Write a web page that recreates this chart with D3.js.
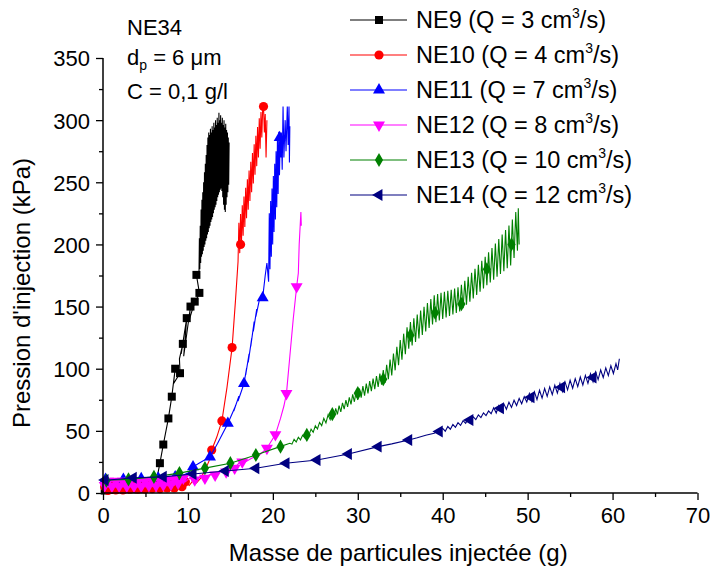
<!DOCTYPE html>
<html><head><meta charset="utf-8">
<script src="https://cdnjs.cloudflare.com/ajax/libs/d3/7.8.5/d3.min.js"></script>
<style>body{margin:0;background:#fff}svg text{font-family:Arial,"Liberation Sans",sans-serif;fill:#000}</style>
</head><body>
<svg id="c" width="713" height="578"></svg>
<script>
const xTicks=[0,10,20,30,40,50,60,70];
const yTicks=[0,50,100,150,200,250,300,350];
const seriesNames=["NE9","NE10","NE11","NE12","NE13","NE14"];
const flows=["3","4","7","8","10","12"];
const colors=["#000000","#ff0000","#0000ff","#ff00ff","#008000","#000080"];
const symbolsKind=["square","circle","triUp","triDown","diamond","triLeft"];

const ne9=[[0,1],[0.5,2],[1,3],[2,3],[3,3],[4,3],[5,4],[5.8,5],[6.3,10],[6.7,24],[7.1,39],[7.7,60],[8.1,77.5],[8.5,100],[8.3,88],[9.07,96.4],[9.0,108],[9.4,120],[9.2,112],[9.86,140.7],[9.5,110],[10.3,150],[10.1,138],[10.8,154],[10.5,148],[11.35,161],[11.0,175.5],
[11.30,175],[11.35,205],[11.40,180],[11.45,215],[11.50,185],[11.55,228],[11.60,190],[11.65,236],[11.70,192],[11.75,242],[11.80,195],[11.85,250],[11.90,198],[11.95,258],[12.00,200],[12.05,265],[12.10,203],[12.15,272],[12.20,205],[12.25,280],[12.30,208],[12.35,286],[12.40,210],[12.45,290],[12.50,213],[12.55,288],[12.60,215],[12.65,293],[12.70,218],[12.75,290],[12.80,220],[12.85,295],[12.90,222],[12.95,292],[13.00,225],[13.05,298],[13.10,228],[13.15,294],[13.20,230],[13.25,300],[13.30,232],[13.35,296],[13.40,235],[13.45,302],[13.50,238],[13.55,298],[13.60,240],[13.65,306],[13.70,242],[13.75,300],[13.80,244],[13.85,304],[13.90,245],[13.95,298],[14.00,243],[14.05,302],[14.10,238],[14.15,296],[14.20,232],[14.25,300],[14.30,228],[14.35,294],[14.40,226],[14.45,297],[14.50,232],[14.55,292],[14.60,238],[14.65,290],[14.70,242],[14.75,286],[14.80,248],[14.85,282]];
const ne9Markers=[[0.2,2],[1,2.5],[1.8,3],[2.6,3],[3.4,3],[4.2,3],[5,4],[5.8,5],[6.7,24],[7.1,39],[7.7,60],[8.1,77.5],[8.5,100],[9.07,96.4],[9.4,120],[9.86,140.7],[10.3,150],[10.8,154],[11.35,161],[11.0,175.5]];

const ne10=[[0.2,5],[0.6,2],[1.05,6],[1.5,2.5],[1.9,6.5],[2.35,2.5],[2.8,6.5],[3.2,3],[3.65,7],[4.1,3],[4.5,7],[4.95,3],[5.4,7],[5.8,3.5],[6.25,7.5],[6.7,3.5],[7.1,7.5],[7.55,4],[8.0,8],[8.4,4],[8.85,8.5],[9.3,5],[9.7,9],[10.15,6],[10.6,10],[11.0,8],[11.5,12],[12.0,18],[12.5,26],[12.8,34.6],[13.4,45],[14.0,58],[14.6,85],[15.2,117],[15.6,155],
[15.9,186],[16.0,217.5],[16.1,193],[16.2,224.5],[16.3,200],[16.4,231.5],[16.5,207],[16.6,238.5],[16.7,214],[16.8,245.5],[16.9,221],[17.0,252.5],[17.1,228],[17.2,259.5],[17.3,235],[17.4,266.5],[17.5,242],[17.6,273.5],[17.7,249],[17.8,280.5],[17.9,256],[18.0,287.5],[18.1,263],[18.2,294.5],[18.3,270],[18.4,301.5],[18.5,277],[18.6,306.5],[18.7,286],[18.8,309.5],[18.9,311],[19.0,290],[19.1,305],[19.2,270],[19.3,300]];
const ne10Markers=[[0.2,5],[0.6,2],[1.05,6],[1.5,2.5],[1.9,6.5],[2.35,2.5],[2.8,6.5],[3.2,3],[3.65,7],[4.1,3],[4.5,7],[4.95,3],[5.4,7],[5.8,3.5],[6.25,7.5],[6.7,3.5],[7.1,7.5],[7.55,4],[8.0,8],[8.4,4],[8.85,8.5],[9.3,5],[9.7,9],[12.8,34.6],[14.0,58],[15.2,117],[16.2,200],[18.9,311]];

const ne11=[[0,10],[1,10.5],[2,11],[3,11],[4,11.5],[5,11.5],[6,12],[7,12],[8,12.5],[9,13],[10,16],[10.6,21],[11.3,24],[12.6,29],[13.5,40],[14.7,56],[15.6,70],[15.4,66],[16.0,78],[15.9,74],[16.6,88],[16.9,100],[16.8,95],[17.2,112],[17.1,105],[17.5,124],[17.4,118],[17.8,138],[17.7,130],[18.1,148],[18.0,142],[18.4,155],[18.8,157],[19.1,175],[19.3,185],
[19.5,170],[19.58,225],[19.66,180],[19.74,235],[19.82,190],[19.9,245],[19.98,200],[20.06,255],[20.14,210],[20.22,265],[20.3,220],[20.38,275],[20.46,230],[20.54,285.5],[20.62,240.6],[20.7,290.6],[20.78,255.6],[20.86,285.7],[20.94,270],[21.0,290],[21.1,260],[21.2,311],[21.3,270],[21.45,300],[21.55,275],[21.7,311],[21.8,280],[21.9,311],[21.95,266],[22.0,295]];
const ne11Markers=[[0.3,11],[2.4,11],[4.5,11.5],[6.5,12],[8.5,13],[10.6,21],[12.6,29],[14.7,56],[16.6,88],[18.8,157],[20.8,286]];

const ne12=[[0.2,6],[0.6,9.5],[1.05,5.5],[1.5,9.5],[1.9,5.5],[2.35,9.5],[2.8,5.5],[3.2,9.5],[3.65,5.5],[4.1,9.5],[4.5,5.5],[4.95,9.5],[5.4,6],[5.8,10],[6.25,6],[6.7,10],[7.1,6.5],[7.55,10.5],[8.0,7],[8.4,11],[8.85,8],[9.3,12],[9.7,9],[10.2,12],[10.8,10.5],[11.4,13],[12,12],[12.6,15],[13.2,14.5],[13.8,18],[14.5,17],[15.0,21],[15.5,20],[16.0,24],[16.5,24],[17.5,28],[18.5,31],[19.3,36],[20.3,47],[20.9,60],[21.3,70],[21.6,80],[22.0,110],[22.4,140],[22.8,166],[23.0,177],[23.1,200],[23.3,226],[23.35,215]];
const ne12Markers=[[0.2,6],[0.6,9.5],[1.05,5.5],[1.5,9.5],[1.9,5.5],[2.35,9.5],[2.8,5.5],[3.2,9.5],[3.65,5.5],[4.1,9.5],[4.5,5.5],[4.95,9.5],[5.4,6],[5.8,10],[6.25,6],[6.7,10],[7.1,6.5],[7.55,10.5],[8.0,7],[8.4,11],[8.85,8],[9.46,12],[10.8,10.5],[12,12],[13.2,14.5],[14.5,17],[15.5,20],[16.4,25],[19.3,36],[20.3,47],[21.6,80],[22.8,166]];

const ne13=[[0,9],[0.5,10],[1,10.5],[3,11],[6,13],[9,16],[12,20],[15,24],[18,30.6],[20.85,37.3],[22,40],[22.25,39.3],[22.5,43.2],[22.75,41],[23,44.9],[23.25,42.7],[23.5,46.5],[23.75,44.4],[24,48.2],[24.25,46.6],[24.5,51.4],[24.75,48.8],[25,54.1],[25.25,51.5],[25.5,56.8],[25.75,54.2],[26,60.1],[26.25,56.4],[26.5,62.8],[26.75,59.1],
[27.0,66],[27.2,61.1],[27.4,68.1],[27.6,63.2],[27.8,70.3],[28.0,65.3],[28.2,72.5],[28.4,67.4],[28.6,74.7],[28.8,69.3],[29.0,77],[29.2,71.3],[29.4,79.3],[29.6,73.4],[29.8,81.5],[30.0,75],[30.2,84],[30.4,76.8],[30.6,86],[30.8,78.4],[31.0,88],[31.2,80.2],[31.4,90],[31.6,82],[31.8,92],[32.0,83.6],[32.2,94.1],[32.4,85.4],[32.6,96],[32.8,87.1],[33.0,99],[33.2,88.5],[33.4,103.2],[33.6,91.5],[33.8,107.4],[34.0,94.5],[34.2,112.2],[34.4,98.7],[34.6,117.6],[34.8,102.9],[35.0,123],[35.2,107.2],[35.4,128.2],[35.6,111.6],[35.8,133.4],[36.0,116],[36.2,137.5],[36.4,118.8],[36.6,140.6],[36.8,121.6],[37.0,143.6],[37.2,124.4],[37.4,146.8],[37.6,127.2],[37.8,149.8],[38.0,130],[38.2,152.8],[38.4,132.8],[38.6,156],[38.8,135.6],[39.0,159],[39.2,137.5],[39.4,160],[39.6,138.8],[39.8,161],[40.0,140],[40.2,161.8],[40.4,141.2],[40.6,162.8],[40.8,142.4],[41.0,163.6],[41.2,143.6],[41.4,164.6],[41.6,144.8],[41.8,165.6],[42.0,146],[42.2,167.6],[42.4,148.6],[42.6,170.8],[42.8,151.4],[43.0,174],[43.2,154],[43.4,177.2],[43.6,156.6],[43.8,180.4],[44.0,159.4],[44.2,183.6],[44.4,162],[44.6,186.8],[44.8,164.6],[45.0,190],[45.2,167.2],[45.4,193.6],[45.6,169.4],[45.8,197.2],[46.0,171.6],[46.2,200.8],[46.4,174],[46.6,204.4],[46.8,176.2],[47.0,208],[47.2,178.4],[47.4,211.6],[47.6,180.8],[47.8,215.2],[48.0,183],[48.2,220],[48.4,189],[48.6,226],[48.8,195],[48.9,229],[49.0,200]];
const ne13Markers=[[0.4,10],[3,11],[6,13],[9,16],[12,20],[15,24],[18,30.6],[20.9,37.3],[24,46.7],[27,63.4],[30,80.3],[33,91.5],[36.2,127],[39.1,145],[42.2,152],[45.2,180],[48.1,200]];

const ne14=[[0,10],[3.6,12.3],[7.1,13],[10.6,15.3],[14.4,17.7],[18,19.9],[21.5,23.9],[25.2,26.6],[28.9,31.4],[32.4,37.3],[34,39.5],[36,42.7],[37,44.5],[38,46.5],[39,48],[40.0,51.9],[40.3,49.7],[40.6,53.5],[40.9,51.3],[41.2,55.1],[41.5,52.9],[41.8,56.6],[42.1,54.4],[42.4,58.2],[42.7,56],[43.0,59.8],[43.3,57.6],[43.6,61.3],[43.9,59.1],[44.2,62.9],[44.5,60.7],[44.8,64.5],[45.1,62.3],[45.4,66],[45.7,63.8],[46.0,68.6],[46.3,64.4],[46.6,70.2],[46.9,65.9],[47.2,71.7],[47.5,67.4],[47.8,73.1],[48.1,68.9],[48.4,74.6],[48.7,70.4],[49.0,76.1],[49.3,71.8],[49.6,77.5],[49.9,73.3],[50.2,80],[50.5,73.7],[50.8,81.4],[51.1,75.1],[51.4,82.7],[51.7,76.4],[52.0,84.1],[52.3,77.8],[52.6,85.4],[52.9,79.1],[53.2,86.7],[53.5,80.4],[53.8,88.1],[54.1,81.7],[54.4,89.4],[54.7,83],[55.0,90.7],[55.3,84.3],[55.6,92],[55.9,85.6],[56.2,93.3],[56.5,86.9],[56.8,94.6],[57.1,88.2],[57.4,95.9],[57.7,89.5],[58.0,97.4],[58.3,91.2],[58.6,99],[58.9,92.9],[59.2,100.7],[59.5,94.5],[59.8,102.4],[60.1,96.2],[60.4,104.1],[60.6,99],[60.8,108]];
const ne14Markers=[[0.24,10.5],[3.57,12.3],[7.1,13],[10.6,15.3],[14.4,17.7],[18,19.9],[21.55,23.9],[25.2,26.6],[28.9,31.4],[32.4,37.3],[36,42.7],[39.6,49.4],[43.2,58.8],[46.8,68.2],[50.4,77],[54,85],[57.7,93]];

const lines=[ne9,ne10,ne11,ne12,ne13,ne14];
const markers=[ne9Markers,ne10Markers,ne11Markers,ne12Markers,ne13Markers,ne14Markers];

const svg=d3.select("#c");
const m={l:103,r:697.5,t:58,b:493};
const x=d3.scaleLinear().domain([0,70]).range([m.l,m.r]);
const y=d3.scaleLinear().domain([0,350]).range([m.b,m.t]);

function symPath(kind){
  const map={square:[d3.symbolSquare,64,0],circle:[d3.symbolCircle,66,0],triUp:[d3.symbolTriangle,62,0],triDown:[d3.symbolTriangle,62,180],diamond:[d3.symbolDiamond,58,0],triLeft:[d3.symbolTriangle,62,-90]};
  const s=map[kind];
  return {d:d3.symbol().type(s[0]).size(s[1])(),rot:s[2]};
}

const plot=svg.append("g");
lines.forEach((data,i)=>{
  plot.append("path").datum(data)
    .attr("fill","none").attr("stroke",colors[i]).attr("stroke-width",1.1)
    .attr("stroke-linejoin","miter")
    .attr("d",d3.line().x(d=>x(d[0])).y(d=>y(d[1])));
  const sp=symPath(symbolsKind[i]);
  plot.selectAll(null).data(markers[i]).enter().append("path")
    .attr("d",sp.d).attr("fill",colors[i])
    .attr("transform",d=>`translate(${x(d[0])},${y(d[1])}) rotate(${sp.rot})`);
});

// axes
const xAxis=svg.append("g").attr("transform",`translate(0,${m.b})`)
  .call(d3.axisBottom(x).tickValues(xTicks).tickSize(7).tickPadding(6).tickFormat(d3.format("d")));
svg.append("g").attr("transform",`translate(0,${m.b})`)
  .call(d3.axisBottom(x).tickValues(d3.range(5,70,10)).tickSize(4).tickFormat(""))
  .call(g=>g.select(".domain").remove());
const yAxis=svg.append("g").attr("transform",`translate(${m.l},0)`)
  .call(d3.axisLeft(y).tickValues(yTicks).tickSize(7).tickPadding(6).tickFormat(d3.format("d")));
svg.append("g").attr("transform",`translate(${m.l},0)`)
  .call(d3.axisLeft(y).tickValues(d3.range(25,350,50)).tickSize(4).tickFormat(""))
  .call(g=>g.select(".domain").remove());
svg.selectAll(".domain").attr("stroke","#000").attr("stroke-width",1.5);
svg.selectAll(".tick line").attr("stroke","#000").attr("stroke-width",1.3);
xAxis.selectAll(".domain").attr("d",`M${m.l},0H${m.r}`);
yAxis.selectAll(".domain").attr("d",`M0,${m.b}V${m.t}`);
svg.selectAll(".tick text").attr("font-size",22).attr("font-family","Arial, 'Liberation Sans', sans-serif").attr("fill","#000");
xAxis.selectAll(".tick text").attr("dy","0.75em");
yAxis.selectAll(".tick text").attr("dy","0.36em");

// titles
svg.append("text").attr("x",(m.l+m.r)/2-2).attr("y",561).attr("text-anchor","middle").attr("font-size",24)
  .text("Masse de particules injectée (g)");
svg.append("text").attr("transform",`translate(30,293) rotate(-90)`).attr("text-anchor","middle").attr("font-size",24)
  .text("Pression d'injection (kPa)");

// annotation
const ann=svg.append("g").attr("font-size",22);
ann.append("text").attr("x",127).attr("y",35).attr("font-size",22).text("NE34");
const t2=ann.append("text").attr("x",127).attr("y",65).attr("font-size",22);
t2.append("tspan").text("d");
t2.append("tspan").attr("dy",5).attr("font-size",14).text("p");
t2.append("tspan").attr("dy",-5).text(" = 6 μm");
ann.append("text").attr("x",127).attr("y",99).attr("font-size",22).text("C = 0,1 g/l");

// legend
const lg=svg.append("g");
seriesNames.forEach((n,i)=>{
  const cy=20+i*35;
  lg.append("line").attr("x1",350).attr("x2",407).attr("y1",cy).attr("y2",cy).attr("stroke",colors[i]).attr("stroke-width",1.1);
  const sp=symPath(symbolsKind[i]);
  lg.append("path").attr("d",sp.d).attr("fill",colors[i]).attr("transform",`translate(379,${cy}) rotate(${sp.rot})`);
  const t=lg.append("text").attr("x",416).attr("y",cy+8).attr("font-size",23.5);
  t.append("tspan").text(`${n} (Q = ${flows[i]} cm`);
  t.append("tspan").attr("dy",-10).attr("font-size",14).text("3");
  t.append("tspan").attr("dy",10).text("/s)");
});
</script>
</body></html>
